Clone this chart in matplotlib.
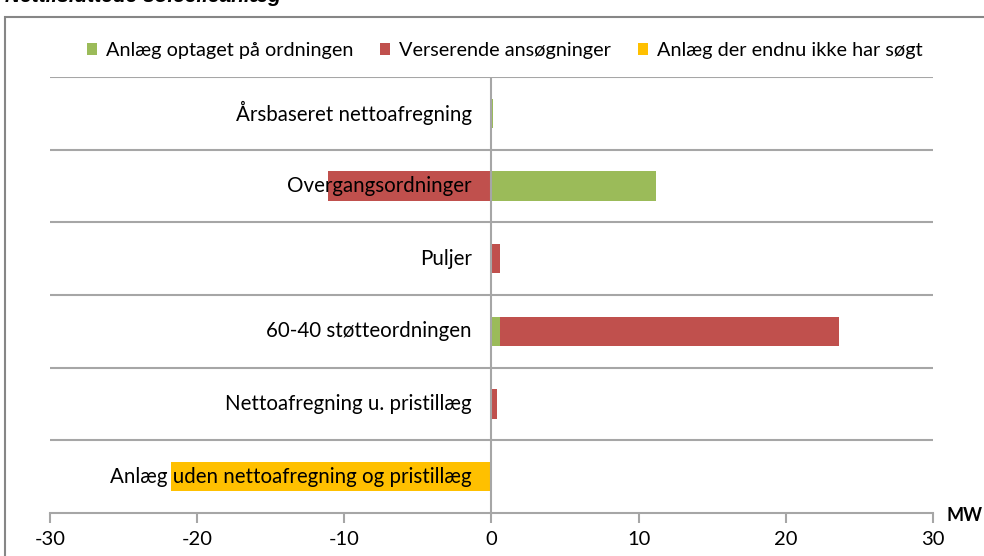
# horizontal stacked bar chart of grid-connected solar plants (MW)
import matplotlib
matplotlib.use('Agg')
import matplotlib.pyplot as plt
from matplotlib.patches import Rectangle
import numpy as np

plt.rcParams['font.family'] = ['Lato', 'DejaVu Sans']

# Data (top to bottom)
categories = ['Årsbaseret nettoafregning', 'Overgangsordninger', 'Puljer',
              '60-40 støtteordningen', 'Nettoafregning u. pristillæg',
              'Anlæg uden nettoafregning og pristillæg']
optaget = [0.1, 11.2, 0.0, 0.6, 0.05, 0.0]
verserende = [0.0, -11.1, 0.6, 23.0, 0.3, 0.0]
ikke_soegt = [0.0, 0.0, 0.0, 0.0, 0.0, -21.8]
series_names = ['Anlæg optaget på ordningen', 'Verserende ansøgninger',
                'Anlæg der endnu ikke har søgt']
colors = ['#9BBB59', '#C0504D', '#FFC000']
xticks = [-30, -20, -10, 0, 10, 20, 30]

fig = plt.figure(figsize=(9.84, 5.56), dpi=100)
ax = fig.add_axes([0.0508, 0.0773, 0.8973, 0.7842])

y = np.arange(len(categories))
grey = '#a6a6a6'

# stack positives right and negatives left, like Excel does
pos = np.zeros(len(categories))
neg = np.zeros(len(categories))
for vals, name, col in zip([optaget, verserende, ikke_soegt], series_names, colors):
    vals = np.array(vals)
    left = np.where(vals >= 0, pos, neg)
    ax.barh(y, vals, left=left, height=0.4, color=col, label=name, zorder=2)
    pos = pos + np.where(vals >= 0, vals, 0)
    neg = neg + np.where(vals < 0, vals, 0)

ax.set_ylim(len(categories) - 0.5, -0.5)
ax.set_xlim(-30, 30)

# category separators
for b in np.arange(-0.5, len(categories) - 0.5):
    ax.axhline(b, color=grey, lw=1.5, zorder=1)
ax.axvline(0, color=grey, lw=1.5, zorder=3)

# category labels next to the zero line
for i, c in enumerate(categories):
    ax.text(-1.35, i, c, ha='right', va='center', fontsize=14.8, color='black', zorder=4)

for s in ['top', 'right', 'left']:
    ax.spines[s].set_visible(False)
ax.spines['bottom'].set_color(grey)
ax.spines['bottom'].set_linewidth(1.5)
ax.set_yticks([])
ax.set_xticks(xticks)
ax.set_xticklabels([str(t) for t in xticks])
ax.tick_params(axis='x', direction='out', length=7, width=1.5, color=grey,
               labelsize=14.5, pad=6)

fig.text(0.962, 0.058, 'MW', fontsize=13, fontweight='bold', ha='left', va='bottom')

leg = ax.legend(loc='lower center', bbox_to_anchor=(0.515, 1.0), ncol=3, frameon=False,
                fontsize=14.3, handlelength=0.5, handleheight=0.5, handletextpad=0.45,
                columnspacing=1.35)

# chart border and clipped title
fig.patches.append(Rectangle((0.005, -0.1), 1.2, 1.07, transform=fig.transFigure,
                             fill=False, edgecolor='#868686', lw=1.5))
fig.text(0.005, 1.006, 'Nettilsluttede solcelleanlæg', fontsize=15, fontweight='bold',
         fontstyle='italic', family=['Liberation Sans'], ha='left', va='center')

fig.savefig('out.png', dpi=100)
